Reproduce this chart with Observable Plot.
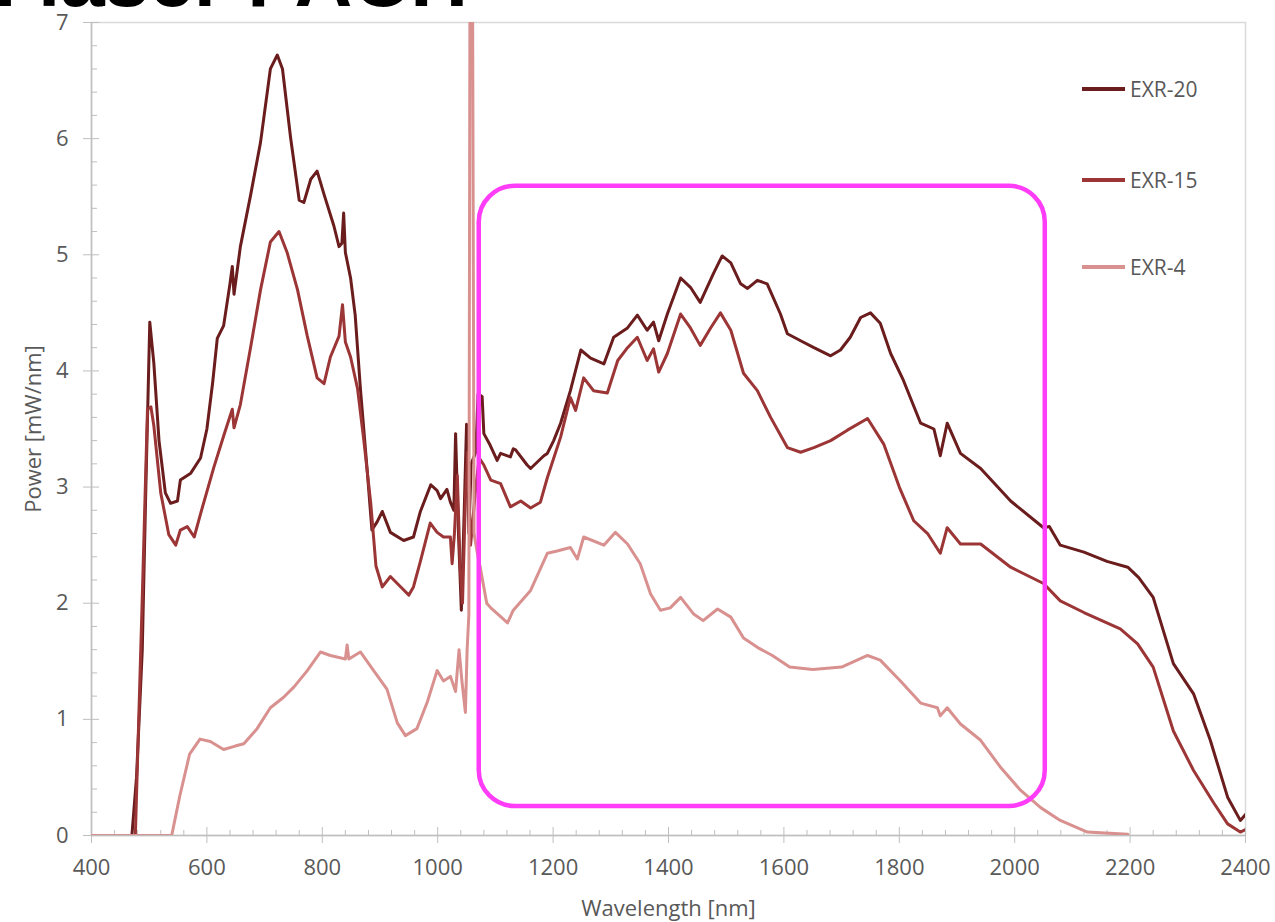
<!DOCTYPE html>
<html>
<head>
<meta charset="utf-8">
<script src="https://cdn.jsdelivr.net/npm/d3@7"></script>
<script src="https://cdn.jsdelivr.net/npm/@observablehq/plot@0.6"></script>
<style>
  body { margin: 0; background: #fff; }
  #wrap { position: relative; width: 1275px; height: 922px; overflow: hidden; background: #fff; }
  #title { position: absolute; left: -33px; top: -61px; font: bold 80px/1 "Liberation Sans", Arial, sans-serif; color: #000; white-space: nowrap; }
  .leg { position: absolute; left: 1082px; height: 24px; display: flex; align-items: center; font: 21px "Open Sans", sans-serif; color: #595959; white-space: nowrap; }
  .leg .sw { display: inline-block; width: 43px; height: 4px; margin-right: 5px; }
  svg { display: block; }
</style>
</head>
<body>
<div id="wrap"><div id="title">n laser PACH</div></div>
<script>
// ---- Series names and colours ----
const seriesNames = ["EXR-20", "EXR-15", "EXR-4"];
const seriesColors = ["#6b1d1d", "#9c3535", "#d99190"];

// ---- EXR-20 ----
const wl20 = [400,470,478,488,494,501,508,517,528,537,549,554,572,589,600,610,618,629,640,644,647,658,676,693,710,722,731,745,760,768,780,791,803,820,829,834,837,840,849,857,866,878,886,895,904,918,941,958,970,988,999,1005,1016,1022,1028,1031,1036,1041,1046,1050,1054,1058,1066,1070,1077,1080,1091,1103,1109,1126,1131,1135,1155,1161,1184,1190,1201,1213,1230,1248,1265,1288,1305,1329,1346,1363,1374,1383,1398,1421,1438,1455,1478,1493,1508,1525,1537,1554,1571,1594,1606,1629,1652,1681,1698,1715,1733,1750,1767,1785,1807,1837,1860,1871,1883,1906,1941,1993,2050,2060,2079,2120,2160,2196,2215,2240,2275,2310,2339,2369,2391,2400];
const p20 = [0,0,0.5,1.6,2.95,4.42,4.07,3.4,2.95,2.86,2.88,3.06,3.12,3.25,3.5,3.9,4.28,4.39,4.75,4.9,4.66,5.07,5.52,5.97,6.6,6.72,6.6,6.01,5.47,5.45,5.65,5.72,5.52,5.25,5.07,5.1,5.36,5.02,4.8,4.48,3.85,3.13,2.63,2.7,2.79,2.61,2.54,2.57,2.79,3.02,2.97,2.9,2.98,2.87,2.8,3.46,2.6,1.94,2.8,3.54,2.6,3.2,3.3,3.8,3.78,3.46,3.36,3.23,3.29,3.26,3.33,3.32,3.19,3.16,3.27,3.29,3.4,3.55,3.83,4.18,4.11,4.06,4.29,4.37,4.48,4.35,4.42,4.26,4.49,4.8,4.72,4.59,4.84,4.99,4.93,4.75,4.71,4.78,4.75,4.49,4.32,4.26,4.2,4.13,4.18,4.29,4.46,4.5,4.41,4.15,3.92,3.55,3.5,3.27,3.55,3.29,3.16,2.88,2.65,2.66,2.5,2.44,2.36,2.31,2.22,2.05,1.48,1.22,0.82,0.33,0.13,0.18];

// ---- EXR-15 ----
const wl15 = [400,476,488,497,503,508,520,534,546,554,566,578,589,612,629,644,647,658,676,693,710,725,739,757,774,791,803,814,829,835,840,849,861,872,884,893,904,918,936,950,958,970,987,999,1010,1022,1025,1029,1034,1039,1043,1048,1052,1057,1066,1072,1080,1092,1109,1126,1144,1161,1178,1190,1213,1230,1239,1253,1270,1294,1312,1329,1346,1363,1374,1383,1398,1421,1438,1455,1473,1490,1508,1530,1554,1577,1606,1629,1652,1681,1710,1745,1773,1800,1825,1849,1871,1883,1906,1941,1993,2050,2079,2120,2183,2213,2240,2275,2310,2345,2369,2391,2400];
const p15 = [0,0,2.05,3.67,3.69,3.53,2.95,2.59,2.5,2.63,2.66,2.57,2.77,3.17,3.44,3.67,3.51,3.71,4.21,4.7,5.11,5.2,5.02,4.7,4.3,3.94,3.89,4.12,4.3,4.57,4.25,4.12,3.85,3.4,2.86,2.32,2.14,2.23,2.14,2.07,2.14,2.36,2.69,2.61,2.57,2.57,2.34,2.6,3.1,2.3,2.0,2.9,3.3,2.5,3.0,3.25,3.19,3.06,3.03,2.83,2.88,2.82,2.87,3.08,3.43,3.77,3.66,3.94,3.83,3.81,4.09,4.2,4.29,4.09,4.19,3.99,4.15,4.49,4.37,4.22,4.37,4.5,4.35,3.98,3.83,3.6,3.34,3.3,3.34,3.4,3.49,3.59,3.37,3.0,2.71,2.6,2.43,2.65,2.51,2.51,2.31,2.17,2.02,1.92,1.78,1.65,1.45,0.9,0.56,0.28,0.1,0.03,0.05];

// ---- EXR-4 ----
const wl4 = [400,539,553,570,588,606,629,649,664,687,710,733,751,774,797,814,840,843,846,866,889,912,930,944,964,982,999,1010,1022,1031,1037,1042,1048,1051,1054,1056.5,1059.5,1063,1068,1074,1085,1092,1110,1121,1131,1161,1190,1207,1230,1242,1253,1288,1308,1329,1351,1369,1386,1403,1421,1443,1460,1485,1508,1530,1554,1580,1610,1650,1700,1745,1767,1802,1837,1866,1871,1883,1906,1941,1975,2010,2045,2079,2126,2196];
const p4 = [0,0,0.34,0.7,0.83,0.81,0.74,0.77,0.79,0.92,1.1,1.19,1.28,1.42,1.58,1.55,1.52,1.64,1.52,1.58,1.42,1.26,0.97,0.86,0.92,1.15,1.42,1.33,1.37,1.24,1.6,1.33,1.06,1.6,1.9,9,9,2.6,2.45,2.3,2.0,1.96,1.88,1.83,1.94,2.11,2.43,2.45,2.48,2.38,2.57,2.5,2.61,2.51,2.34,2.08,1.94,1.96,2.05,1.91,1.85,1.95,1.88,1.7,1.62,1.55,1.45,1.43,1.45,1.55,1.51,1.33,1.14,1.1,1.03,1.1,0.96,0.82,0.59,0.39,0.24,0.13,0.03,0.01];

// ---- Axes ----
const xTicks = [400,600,800,1000,1200,1400,1600,1800,2000,2200,2400];
const xMinorTicks = d3.range(400, 2401, 40).filter(d => d % 200 !== 0);
const yTicks = [0,1,2,3,4,5,6,7];
const yMinorTicks = d3.range(0, 36).filter(i => i % 5 !== 0).map(i => i / 5);

// ---- Highlight box (magenta annotation) ----
const highlight = [{x1: 1072, x2: 2053, y1: 0.25, y2: 5.59}];

const toRows = (wl, p) => wl.map((w, i) => ({wl: w, p: p[i]}));
const series = [toRows(wl20, p20), toRows(wl15, p15), toRows(wl4, p4)];

const axisGray = "#bfbfbf";
const textGray = "#595959";

const chart = Plot.plot({
  width: 1275,
  height: 922,
  marginTop: 22,
  marginRight: 30,
  marginBottom: 87,
  marginLeft: 91,
  style: {fontFamily: '"Open Sans", sans-serif', background: "#fff", color: textGray},
  x: {type: "linear", domain: [400, 2400]},
  y: {type: "linear", domain: [0, 7]},
  marks: [
    Plot.frame({stroke: "#d9d9d9", strokeWidth: 1.5}),
    Plot.ruleX([400], {stroke: axisGray, strokeWidth: 1.5}),
    Plot.ruleY([0], {stroke: axisGray, strokeWidth: 1.5}),
    // x axis: major ticks crossing the axis, minor ticks inside
    Plot.axisX(xTicks, {anchor: "bottom", tickSize: 8, tickPadding: 16, fontSize: 22, stroke: axisGray, fill: textGray,
      tickFormat: d => String(d), label: "Wavelength [nm]", labelAnchor: "center", labelArrow: "none", labelOffset: 80}),
    Plot.axisX(xTicks, {anchor: "bottom", tickSize: 8, dy: -8, stroke: axisGray, fill: "none", label: null}),
    Plot.axisX(xMinorTicks, {anchor: "bottom", tickSize: 5, dy: -5, stroke: axisGray, fill: "none", label: null}),
    // y axis
    Plot.axisY(yTicks, {anchor: "left", tickSize: 8, tickPadding: 15, fontSize: 22, stroke: axisGray, fill: textGray,
      tickFormat: d => String(d), label: "Power [mW/nm]", labelAnchor: "center", labelArrow: "none", labelOffset: 66}),
    Plot.axisY(yTicks, {anchor: "left", tickSize: 8, dx: 8, stroke: axisGray, fill: "none", label: null}),
    Plot.axisY(yMinorTicks, {anchor: "left", tickSize: 6, dx: 6, stroke: axisGray, fill: "none", label: null}),
    // series
    ...series.map((rows, i) => Plot.line(rows, {x: "wl", y: "p", stroke: seriesColors[i], strokeWidth: 3, clip: true, strokeLinejoin: "round"})),
    // annotation box
    Plot.rect(highlight, {x1: "x1", x2: "x2", y1: "y1", y2: "y2", fill: "none", stroke: "#ff3cf7", strokeWidth: 4.5, rx: 36})
  ]
});

const wrap = document.getElementById("wrap");
wrap.insertBefore(chart, wrap.firstChild);

// legend (inside plot area, top right)
const legendTops = [77, 168, 255];
seriesNames.forEach((name, i) => {
  const item = document.createElement("div");
  item.className = "leg";
  item.style.top = legendTops[i] + "px";
  const sw = document.createElement("span");
  sw.className = "sw";
  sw.style.background = seriesColors[i];
  item.appendChild(sw);
  item.appendChild(document.createTextNode(name));
  wrap.appendChild(item);
});
</script>
</body>
</html>
